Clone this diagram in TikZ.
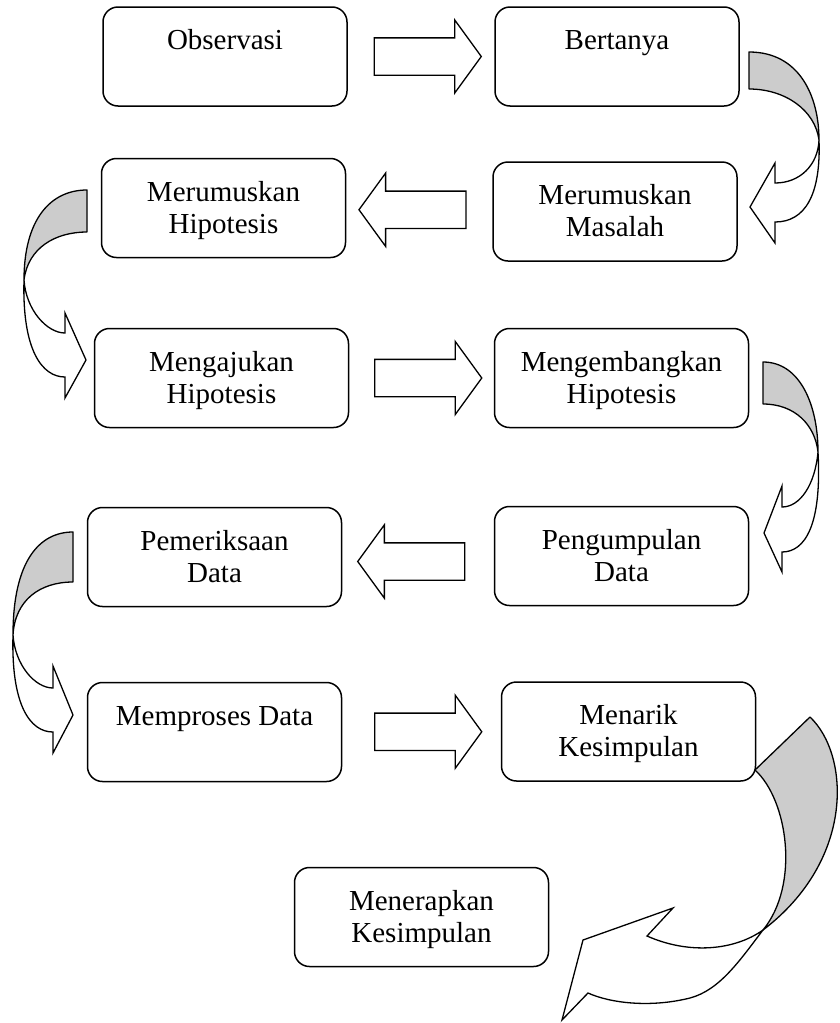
\documentclass[tikz,border=0pt]{standalone}
\usepackage{fontspec}
\setmainfont{Liberation Serif}
\usetikzlibrary{shapes.arrows,calc}
\newcommand\headstrut{\rule{0pt}{28.4pt}}

\begin{document}
\begin{tikzpicture}[x=1pt, y=-1pt,
  stage/.style={draw, line width=1.5pt, rounded corners=15pt, minimum width=244pt, minimum height=99pt, inner sep=0pt, align=center, font=\fontsize{29}{32}\selectfont},
  wide/.style={minimum width=254pt},
  flowarrow/.style={draw, line width=1.3pt, single arrow, single arrow head extend=18pt, single arrow head indent=0pt, single arrow tip angle=108, minimum height=107pt, inner xsep=0pt, inner ysep=18pt},
  flipped/.style={shape border rotate=180},
  backside/.style={draw, line width=1.3pt, fill=gray!40, line join=round},
  frontside/.style={draw, line width=1.3pt, fill=white},
  ]
  \useasboundingbox (0,0) rectangle (840,1023);
  \node[stage] (obs) at (225,56.5) {\headstrut Observasi\\\strut};
  \node[stage] (ber) at (617,56.5) {\headstrut Bertanya\\\strut};
  \node[stage] (hip) at (223.5,208) {\headstrut Merumuskan\\\strut Hipotesis};
  \node[stage] (mas) at (615,211.5) {\headstrut Merumuskan\\\strut Masalah};
  \node[stage, wide] (aju) at (221.5,378) {\headstrut Mengajukan\\\strut Hipotesis};
  \node[stage, wide] (kem) at (621.5,378) {\headstrut Mengembangkan\\\strut Hipotesis};
  \node[stage, wide] (per) at (214.5,557) {\headstrut Pemeriksaan\\\strut Data};
  \node[stage, wide] (kum) at (621.5,556) {\headstrut Pengumpulan\\\strut Data};
  \node[stage, wide] (pro) at (214.5,732) {\headstrut Memproses Data\\\strut};
  \node[stage, wide] (tar) at (628.5,731.5) {\headstrut Menarik\\\strut Kesimpulan};
  \node[stage, wide] (ter) at (421.5,917) {\headstrut Menerapkan\\\strut Kesimpulan};

  \node[flowarrow] (a1) at ($(obs.east)!0.5!(ber.west)$) {};
  \node[flowarrow, flipped] (a2) at ($(mas.west)!0.5!(hip.east)$) {};
  \node[flowarrow] (a3) at ($(aju.east)!0.5!(kem.west)$) {};
  \node[flowarrow, flipped, yshift=-5pt] (a4) at ($(kum.west)!0.5!(per.east)$) {};
  \node[flowarrow] (a5) at ($(pro.east)!0.5!(tar.west)$) {};

  \draw[backside] (749,52) .. controls (800,52) and (819,97) .. (819,140) .. controls (815,110) and (785,89) .. (749,89) -- cycle;
  \draw[frontside] (819,140) .. controls (821,195) and (805,222) .. (775,222) -- (775,243) -- (750,207) -- (775,163) -- (775,183) .. controls (800,183) and (818,165) .. (819,140) -- cycle;

  \draw[backside] (87,190) .. controls (50,190) and (24,220) .. (24,280) .. controls (28,248) and (55,232) .. (87,232) -- cycle;
  \draw[frontside] (24,280) .. controls (22,350) and (42,377) .. (65,377) -- (65,398) -- (86,360) -- (65,313) -- (65,333) .. controls (47,333) and (26,310) .. (24,280) -- cycle;

  \draw[backside] (763,362) .. controls (800,362) and (818,405) .. (818,452) .. controls (815,425) and (795,404) .. (763,404) -- cycle;
  \draw[frontside] (818,452) .. controls (822,525) and (805,552) .. (782,552) -- (782,572) -- (764,533) -- (782,486) -- (782,507) .. controls (800,507) and (815,485) .. (818,452) -- cycle;

  \draw[backside] (73,532) .. controls (40,532) and (13,560) .. (13,635) .. controls (15,600) and (40,582) .. (73,582) -- cycle;
  \draw[frontside] (13,635) .. controls (11,705) and (30,732) .. (53,732) -- (53,753) -- (73,715) -- (53,666) -- (53,688) .. controls (35,688) and (15,665) .. (13,635) -- cycle;

  \draw[backside] (755,770) -- (810,717) .. controls (850,755) and (855,860) .. (763,930) .. controls (800,885) and (788,800) .. (755,770) -- cycle;
  \draw[frontside] (763,930) .. controls (740,960) and (720,990) .. (690,998) .. controls (650,1008) and (610,1003) .. (588,993) -- (562,1020) -- (583,940) -- (673,908) -- (647,936) .. controls (690,955) and (735,950) .. (763,930) -- cycle;
\end{tikzpicture}
\end{document}
